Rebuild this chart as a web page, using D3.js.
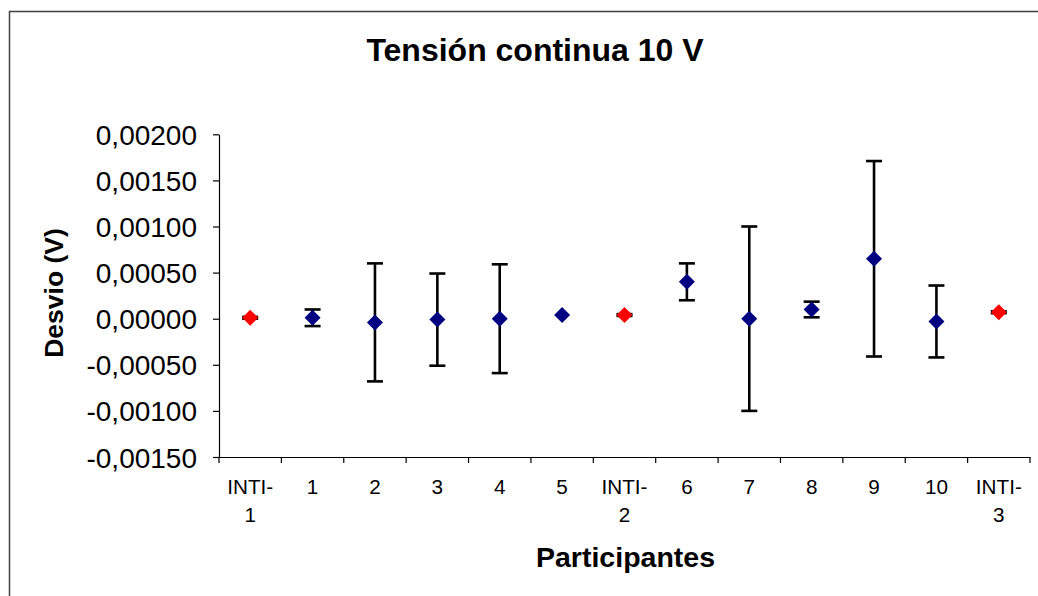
<!DOCTYPE html>
<html>
<head>
<meta charset="utf-8">
<script src="https://cdn.jsdelivr.net/npm/d3@7"></script>
<style>
  html, body { margin: 0; padding: 0; background: #fff; }
  svg { display: block; font-family: "Liberation Sans", Arial, sans-serif; }
</style>
</head>
<body>
<svg id="chart" width="1038" height="596"></svg>
<script>
// ---- data ----
const categories = ["INTI-1","1","2","3","4","5","INTI-2","6","7","8","9","10","INTI-3"];
const values     = [0.00001, 0.00001, -0.00004, -0.00001, 0.00000, 0.00004, 0.00004, 0.00040, 0.00000, 0.00010, 0.00065, -0.00003, 0.00007];
const errors     = [0.00001, 0.00009, 0.00064, 0.00050, 0.00059, 0.00000, 0.00001, 0.00020, 0.00100, 0.000085, 0.00106, 0.00039, 0.00001];
const referenceLabs = ["INTI-1","INTI-2","INTI-3"];
const yTicks = [-0.0015, -0.001, -0.0005, 0, 0.0005, 0.001, 0.0015, 0.002];
const titleText = "Tensión continua 10 V";
const yTitle = "Desvio (V)";
const xTitle = "Participantes";

const svg = d3.select("#chart");

// outer chart border (extends beyond the visible window)
svg.append("rect")
  .attr("x", 9.5).attr("y", 11.5).attr("width", 1100).attr("height", 700)
  .attr("fill", "none").attr("stroke", "#404040").attr("stroke-width", 1.5);

const x = d3.scaleBand().domain(categories).range([219, 1030]).padding(0);
const y = d3.scaleLinear().domain([-0.0015, 0.002]).range([457, 134.3]);

const loc = d3.formatLocale({decimal: ",", thousands: ".", grouping: [3], currency: ["", ""], minus: "-"});
const fmt = loc.format(".5f");

// Y axis
const yAxis = svg.append("g").attr("transform", "translate(219,0)")
  .call(d3.axisLeft(y).tickValues(yTicks).tickFormat(fmt).tickSize(6).tickSizeOuter(0).tickPadding(16));
yAxis.select(".domain").attr("stroke", "#000").attr("stroke-width", 1.2);
yAxis.selectAll(".tick line").attr("stroke", "#000").attr("stroke-width", 1.2);
yAxis.selectAll(".tick text").attr("font-size", 28).attr("fill", "#000")
  .attr("font-family", "'Liberation Sans', Arial, sans-serif").attr("dy", "0.36em");

// X axis
const xAxis = svg.append("g").attr("transform", "translate(0,457)")
  .call(d3.axisBottom(x).tickSize(0).tickFormat(""));
xAxis.select(".domain").attr("stroke", "#000").attr("stroke-width", 1.2);
// category boundary ticks
const bounds = categories.map(c => x(c)).concat([x.range()[1]]);
xAxis.selectAll(".bt").data(bounds).join("line")
  .attr("x1", d => d).attr("x2", d => d).attr("y1", 0).attr("y2", 6)
  .attr("stroke", "#000").attr("stroke-width", 1.2);
// category labels (wrapping "INTI-n")
categories.forEach(c => {
  const cx = x(c) + x.bandwidth() / 2;
  const t = xAxis.append("text").attr("text-anchor", "middle")
    .attr("font-size", 20.7).attr("fill", "#000");
  const m = c.match(/^(INTI-)(\d+)$/);
  if (m) {
    t.append("tspan").attr("x", cx).attr("y", 37).text(m[1]);
    t.append("tspan").attr("x", cx).attr("y", 64.7).text(m[2]);
  } else {
    t.append("tspan").attr("x", cx).attr("y", 37).text(c);
  }
});

// error bars
const g = svg.append("g");
const data = categories.map((c, i) => ({c, v: values[i], e: errors[i]}));
const capHalf = 8;
data.forEach(d => {
  const cx = x(d.c) + x.bandwidth() / 2;
  if (d.e <= 0) return;
  g.append("line").attr("x1", cx).attr("x2", cx)
    .attr("y1", y(d.v + d.e)).attr("y2", y(d.v - d.e))
    .attr("stroke", "#000").attr("stroke-width", 2.6);
  [d.v + d.e, d.v - d.e].forEach(w => {
    g.append("line").attr("x1", cx - capHalf).attr("x2", cx + capHalf)
      .attr("y1", y(w)).attr("y2", y(w))
      .attr("stroke", "#000").attr("stroke-width", 2.6);
  });
});

// markers
const h = 8;
g.selectAll(".pt").data(data).join("path")
  .attr("d", `M0,${-h}L${h},0L0,${h}L${-h},0Z`)
  .attr("transform", d => `translate(${x(d.c) + x.bandwidth() / 2},${y(d.v)})`)
  .attr("fill", d => referenceLabs.includes(d.c) ? "#FF0000" : "#000080");

// titles
svg.append("text").attr("x", 535).attr("y", 61).attr("text-anchor", "middle")
  .attr("font-size", 32).attr("font-weight", "bold").attr("fill", "#000").text(titleText);
svg.append("text").attr("x", 625.5).attr("y", 567).attr("text-anchor", "middle")
  .attr("font-size", 28.5).attr("font-weight", "bold").attr("fill", "#000").text(xTitle);
svg.append("text").attr("transform", "translate(63,293) rotate(-90)").attr("text-anchor", "middle")
  .attr("font-size", 26.5).attr("font-weight", "bold").attr("fill", "#000").text(yTitle);
</script>
</body>
</html>
